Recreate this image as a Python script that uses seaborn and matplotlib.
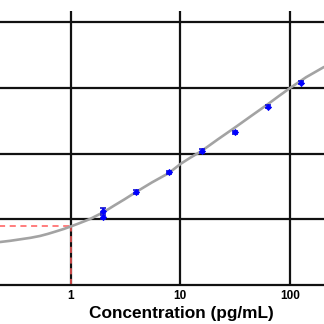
import matplotlib
matplotlib.use("Agg")
import matplotlib.pyplot as plt
import seaborn as sns
import pandas as pd

# Standards (pg/mL) and mean optical density with error
std_conc = [1.95, 1.95, 3.9, 7.8, 15.6, 31.25, 62.5, 125]
std_od = [0.565, 0.519, 0.705, 0.857, 1.019, 1.161, 1.356, 1.538]
std_err = [0.018, 0.015, 0.015, 0.013, 0.012, 0.013, 0.012, 0.012]

# Fitted standard curve
fit_conc = [0.227, 0.28, 0.35, 0.43, 0.525, 0.62, 0.75, 0.87, 1.0, 1.2, 1.5, 2.0,
            2.5, 3.1, 3.94, 5.5, 7.87, 10, 12.2, 15.6, 22, 31.25, 45, 62.5, 80,
            100, 140, 204]
fit_od = [0.327, 0.336, 0.348, 0.359, 0.373, 0.389, 0.410, 0.427, 0.445, 0.470,
          0.502, 0.555, 0.605, 0.652, 0.707, 0.780, 0.852, 0.920, 0.966, 1.019,
          1.108, 1.196, 1.290, 1.374, 1.440, 1.498, 1.580, 1.658]

# Detection limit guide
lod_conc = 1.0
lod_od = 0.445

x_ticks = [1, 10, 100]
x_tick_labels = ["1", "10", "100"]
y_grid = [0.5, 1.0, 1.5, 2.0]

sns.set_theme(style="white")
plt.rcParams["font.family"] = ["Liberation Sans", "DejaVu Sans"]

fig = plt.figure(figsize=(3.24, 3.24), dpi=100)
ax = fig.add_axes([0.0, 39 / 324, 1.0, 274 / 324])

curve = pd.DataFrame({"conc": fit_conc, "od": fit_od})
sns.lineplot(data=curve, x="conc", y="od", color="#a3a3a3", linewidth=1.9, ax=ax, zorder=3)

ax.plot([0.01, lod_conc], [lod_od, lod_od], color="#ff5a5a", linestyle=(0, (4, 3)), linewidth=1.1, zorder=2)
ax.plot([lod_conc, lod_conc], [0, lod_od], color="#ff5a5a", linestyle=(0, (4, 3)), linewidth=1.1, zorder=2)

ax.errorbar(std_conc, std_od, yerr=std_err, fmt="none", ecolor="#1010d0", elinewidth=1.2,
            capsize=2.5, capthick=1.2, zorder=4)
sns.scatterplot(x=std_conc, y=std_od, color="#0000ff", marker="D", s=10, edgecolor="#0000ff",
                linewidth=0.5, ax=ax, zorder=5)

ax.set_xscale("log")
ax.set_xlim(0.2265, 204.2)
ax.set_ylim(0, 2.084)

for v in x_ticks:
    ax.axvline(v, color="#111111", linewidth=1.6, zorder=1)
for v in y_grid:
    ax.axhline(v, color="#111111", linewidth=1.6, zorder=1)

for side in ["left", "right", "top"]:
    ax.spines[side].set_visible(False)
ax.spines["bottom"].set_color("#111111")
ax.spines["bottom"].set_linewidth(1.6)

ax.set_xticks(x_ticks)
ax.set_xticklabels(x_tick_labels, fontsize=8.5, fontweight="bold", color="black")
ax.xaxis.set_minor_locator(matplotlib.ticker.NullLocator())
ax.tick_params(axis="x", length=0, pad=3.5)
ax.set_yticks([])
ax.set_xlabel("Concentration (pg/mL)", fontsize=12.4, fontweight="bold", color="black")
ax.xaxis.label.set_va("baseline")
ax.xaxis.set_label_coords(181.5 / 324, -33.3 / 274)
ax.set_ylabel("")

fig.savefig("out.png", dpi=100)
